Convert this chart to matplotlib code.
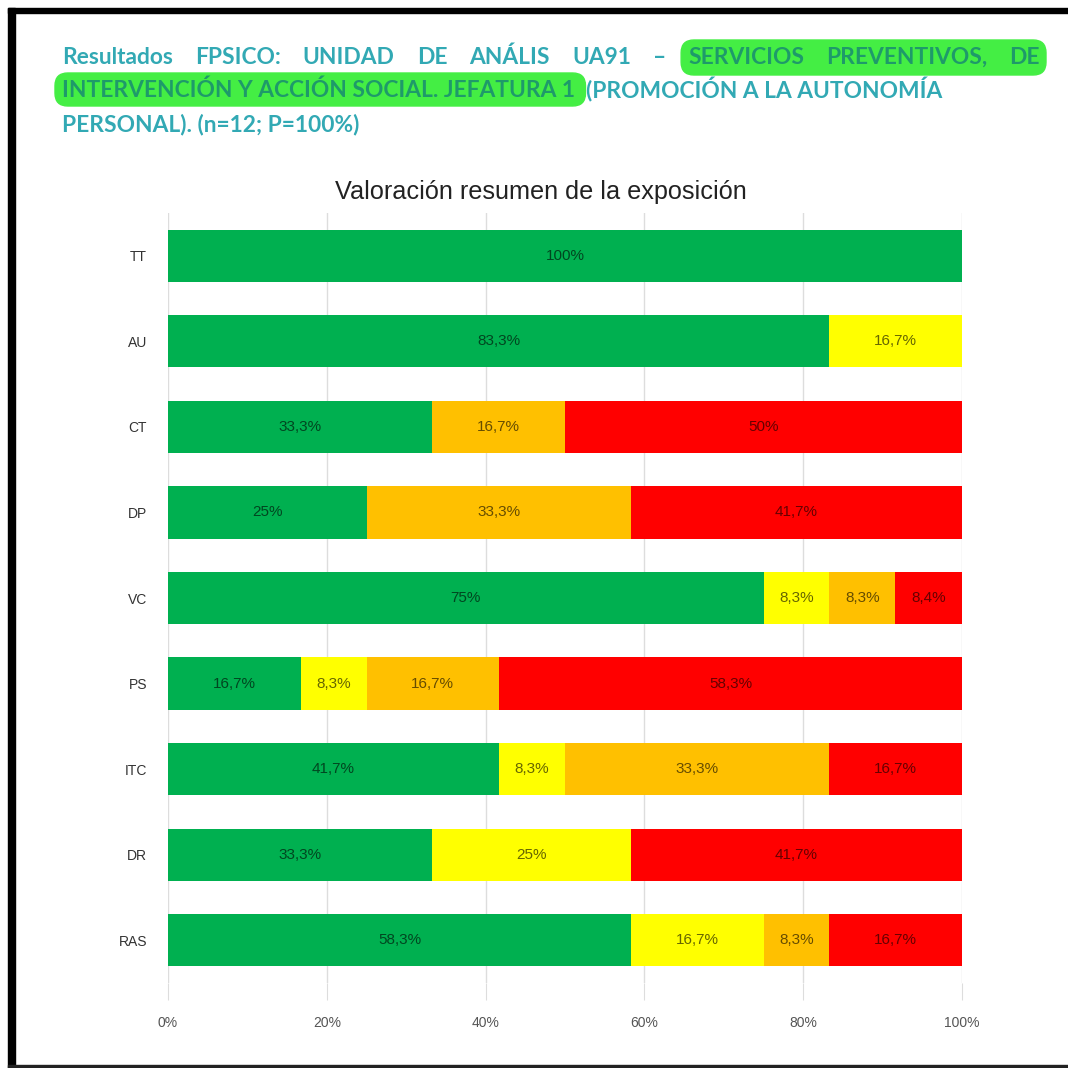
import matplotlib.pyplot as plt
from matplotlib.patches import FancyBboxPatch, Rectangle

# Data
categories = ["TT", "AU", "CT", "DP", "VC", "PS", "ITC", "DR", "RAS"]
green = [100, 83.3, 33.3, 25, 75, 16.7, 41.7, 33.3, 58.3]
yellow = [0, 16.7, 0, 0, 8.3, 8.3, 8.3, 25, 16.7]
orange = [0, 0, 16.7, 33.3, 8.3, 16.7, 33.3, 0, 8.3]
red = [0, 0, 50, 41.7, 8.4, 58.3, 16.7, 41.7, 16.7]
x_ticks = [0, 20, 40, 60, 80, 100]

series = [green, yellow, orange, red]
colors = ["#00B050", "#FFFF00", "#FFC000", "#FF0000"]

W = H = 1068
fig = plt.figure(figsize=(W / 100, H / 100), dpi=100)


def fx(px):
    return px / W


def fy(py):
    return 1 - py / H


# frame of the screenshot
fig.patches.append(Rectangle((fx(8), 0), fx(7), fy(8), color="black",
                             transform=fig.transFigure))
fig.patches.append(Rectangle((fx(8), fy(13)), 1, fx(5), color="black",
                             transform=fig.transFigure))
fig.patches.append(Rectangle((fx(8), 0), 1, fx(3), color="#222222",
                             transform=fig.transFigure))

# chart
ax = fig.add_axes([fx(168), fy(983), fx(962 - 168), (983 - 213) / H])
left = [0] * len(categories)
for vals, col in zip(series, colors):
    bars = ax.barh(range(len(categories)), vals, left=left, height=0.61,
                   color=col, zorder=2)
    labels = [(f"{v:g}%".replace(".", ",") if v > 0 else "") for v in vals]
    ax.bar_label(bars, labels=labels, label_type="center", fontsize=11,
                 color="black", alpha=0.6, family="Liberation Sans")
    left = [a + b for a, b in zip(left, vals)]

ax.set_ylim(len(categories) - 0.5, -0.5)
ax.set_xlim(0, 100)
ax.set_yticks(range(len(categories)))
ax.set_yticklabels(categories, fontsize=10, family="Liberation Sans",
                   color="#333333")
ax.set_xticks(x_ticks)
ax.set_xticklabels([f"{t}%" for t in x_ticks], fontsize=10,
                   family="Liberation Sans", color="#555555")
ax.tick_params(axis="y", length=0, pad=15)
ax.tick_params(axis="x", length=12, color="#dddddd", pad=12)
ax.grid(axis="x", color="#dddddd", lw=1, zorder=0)
for s in ax.spines.values():
    s.set_visible(False)

fig.text(fx(541), fy(192), "Valoración resumen de la exposición",
         ha="center", va="center", fontsize=18.2, family="Liberation Sans",
         color="#222222")

# header text (justified first line)
teal = "#32A9B4"
hl_text = "#1E9A6A"
hl = "#44EE44"
fs = 16.4
fam = "Lato"

fig.canvas.draw()
r = fig.canvas.get_renderer()

words1 = ["Resultados", "FPSICO:", "UNIDAD", "DE", "ANÁLIS", "UA91", "–",
          "SERVICIOS", "PREVENTIVOS,", "DE"]
hl1 = [False] * 7 + [True] * 3
x0, x1 = 62, 1040
objs = []
for w, h in zip(words1, hl1):
    t = fig.text(0, fy(57), w, fontsize=fs, family=fam, weight="bold",
                 color=hl_text if h else teal, va="center", zorder=5)
    objs.append(t)
widths = [t.get_window_extent(r).width for t in objs]
gap = (x1 - x0 - sum(widths)) / (len(words1) - 1)
x = x0
xs = []
for t, wd in zip(objs, widths):
    t.set_x(fx(x))
    xs.append((x, x + wd))
    x += wd + gap


# highlight boxes
def hl_box(xa, xb, ya, yb):
    fig.patches.append(FancyBboxPatch((fx(xa), fy(yb)), fx(xb - xa),
                                      (yb - ya) / H,
                                      boxstyle="round,pad=0,rounding_size=0.012",
                                      color=hl, transform=fig.transFigure,
                                      zorder=1))


hl_box(xs[7][0] - 7, xs[9][1] + 6, 40, 75)

line2a = "INTERVENCIÓN Y ACCIÓN SOCIAL. JEFATURA 1 "
line2b = "(PROMOCIÓN A LA AUTONOMÍA"
t2a = fig.text(fx(62), fy(90), line2a, fontsize=fs, family=fam,
               weight="bold", color=hl_text, va="center", zorder=5)
wa = t2a.get_window_extent(r).width + 5
fig.text(fx(62 + wa), fy(90), line2b, fontsize=fs, family=fam,
         weight="bold", color=teal, va="center", zorder=5)
hl_box(55, 62 + wa, 73, 106)

fig.text(fx(62), fy(124), "PERSONAL). (n=12; P=100%)", fontsize=fs,
         family=fam, weight="bold", color=teal, va="center", zorder=5)

fig.savefig("out.png", dpi=100)
